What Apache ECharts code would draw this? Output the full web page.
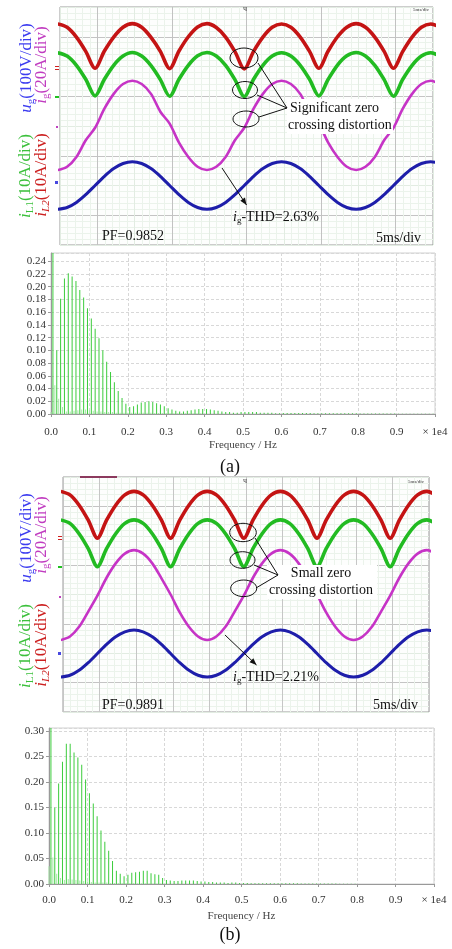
<!DOCTYPE html>
<html><head><meta charset="utf-8">
<script src="https://cdn.jsdelivr.net/npm/echarts@6/dist/echarts.min.js"></script>
<style>html,body{margin:0;padding:0;background:#fff}#c{width:452px;height:949px}</style>
</head><body><div id="c"></div><script>
// ---------------- DATA ----------------
// oscilloscope sample times (ms), screen spans -5 .. 45 ms (5 ms/div)
const scopeTimeMs = [-5.3,-4.05,-2.8,-1.55,-0.3,0.95,2.2,3.45,4.7,5.95,7.2,8.45,9.7,10.95,12.2,13.45,14.7,15.95,17.2,18.45,19.7,20.95,22.2,23.45,24.7,25.95,27.2,28.45,29.7,30.95,32.2,33.45,34.7,35.95,37.2,38.45,39.7,40.95,42.2,43.45,44.7,45.95];
// trace levels in screen divisions (0 = bottom of screen, 8 = top)
// (a)
const iL2_a = [7.43,7.32,6.99,6.51,5.94,6.52,6.99,7.32,7.44,7.32,6.98,6.51,5.93,6.52,7.00,7.33,7.44,7.31,6.99,6.50,5.92,6.51,6.99,7.32,7.43,7.32,6.99,6.51,5.94,6.52,7.00,7.32,7.44,7.32,6.99,6.51,5.94,6.51,6.99,7.32,7.43,7.32];
const iL1_a = [6.46,6.35,6.04,5.57,5.01,5.57,6.04,6.35,6.47,6.35,6.03,5.56,5.00,5.57,6.04,6.36,6.47,6.35,6.04,5.56,4.99,5.57,6.04,6.35,6.46,6.35,6.04,5.57,5.01,5.57,6.05,6.36,6.47,6.35,6.04,5.56,5.00,5.57,6.04,6.35,6.46,6.35];
const ig_a  = [2.52,2.63,2.96,3.52,3.94,4.58,5.08,5.41,5.52,5.41,5.08,4.48,4.08,3.44,2.96,2.63,2.52,2.63,2.96,3.52,3.94,4.58,5.08,5.41,5.52,5.41,5.08,4.48,4.08,3.44,2.96,2.63,2.52,2.63,2.96,3.52,3.94,4.58,5.08,5.41,5.52,5.41];
const ug_a  = [1.20,1.26,1.43,1.69,2.00,2.31,2.57,2.74,2.80,2.74,2.57,2.31,2.00,1.69,1.43,1.26,1.20,1.26,1.43,1.69,2.00,2.31,2.57,2.74,2.80,2.74,2.57,2.31,2.00,1.69,1.43,1.26,1.20,1.26,1.43,1.69,2.00,2.31,2.57,2.74,2.80,2.74];
// (b)
const iL2_b = [7.51,7.39,7.04,6.53,5.92,6.53,7.04,7.39,7.51,7.39,7.04,6.53,5.92,6.53,7.04,7.39,7.51,7.39,7.04,6.53,5.92,6.53,7.04,7.39,7.51,7.39,7.04,6.53,5.92,6.53,7.04,7.39,7.51,7.39,7.04,6.53,5.92,6.53,7.04,7.39,7.51,7.39];
const iL1_b = [6.54,6.42,6.07,5.56,4.95,5.56,6.07,6.42,6.54,6.42,6.07,5.56,4.95,5.56,6.07,6.42,6.54,6.42,6.07,5.56,4.95,5.56,6.07,6.42,6.54,6.42,6.07,5.56,4.95,5.56,6.07,6.42,6.54,6.42,6.07,5.56,4.95,5.56,6.07,6.42,6.54,6.42];
const ig_b  = [2.45,2.57,2.90,3.42,3.96,4.57,5.06,5.39,5.51,5.39,5.06,4.55,4.00,3.39,2.90,2.57,2.45,2.57,2.90,3.42,3.96,4.57,5.06,5.39,5.51,5.39,5.06,4.55,4.00,3.39,2.90,2.57,2.45,2.57,2.90,3.42,3.96,4.57,5.06,5.39,5.51,5.39];
const ug_b  = [1.19,1.25,1.42,1.68,1.99,2.30,2.56,2.73,2.79,2.73,2.56,2.30,1.99,1.68,1.42,1.25,1.19,1.25,1.42,1.68,1.99,2.30,2.56,2.73,2.79,2.73,2.56,2.30,1.99,1.68,1.42,1.25,1.19,1.25,1.42,1.68,1.99,2.30,2.56,2.73,2.79,2.73];

// harmonic spectra (fundamental 50 Hz), amplitude per harmonic
const fundamentalHz = 50;
// odd harmonics n = 1,3,5,...
const oddAmp_a = [1.0,0.100,0.181,0.213,0.221,0.216,0.209,0.195,0.183,0.166,0.150,0.134,0.119,0.100,0.082,0.066,0.050,0.036,0.025,0.016,
 0.011,0.012,0.015,0.018,0.019,0.020,0.019,0.017,0.015,0.012,0.009,0.007,0.005,0.004,0.004,0.005,0.006,0.007,0.008,0.008,
 0.008,0.007,0.006,0.005,0.004,0.003,0.003,0.002,0.002,0.003,0.003,0.003,0.003,0.003,0.002,0.002,0.002,0.002,0.001,0.001,
 0.0015,0.0015,0.0015,0.0015,0.0015,0.0015,0.0015,0.0015,0.0012,0.0012,0.001,0.001,0.001,0.001,0.001,0.001,0.001,0.001,0.001,0.001,
 0.0008,0.0008,0.0008,0.0008,0.0008,0.0006,0.0006,0.0006,0.0006,0.0006,0.0005,0.0005,0.0005,0.0005,0.0005,0.0005,0.0005,0.0005,0.0005,0.0005];
// even harmonics n = 0,2,4,...
const evenAmp_a = [0.003,0.045,0.024,0.011,0.004,0.004,0.005,0.006,0.007,0.007,0.006,0.005,0.004,0.004,0.003,0.003,0.003,0.002,0.002,0.002,
 0.002,0.002,0.002,0.002,0.002,0.002,0.002,0.0015,0.0015,0.0015,0.0015,0.0015,0.001,0.001,0.001,0.001,0.001,0.001,0.001,0.001];
const oddAmp_b = [1.0,0.150,0.197,0.240,0.275,0.275,0.258,0.248,0.234,0.205,0.178,0.158,0.133,0.105,0.083,0.065,0.045,0.026,0.020,0.015,
 0.018,0.022,0.023,0.024,0.026,0.026,0.021,0.019,0.018,0.012,0.008,0.007,0.006,0.006,0.007,0.007,0.007,0.007,0.006,0.005,
 0.005,0.004,0.004,0.003,0.003,0.003,0.002,0.003,0.003,0.002,0.002,0.002,0.0015,0.0015,0.0015,0.0015,0.0015,0.0015,0.0015,0.0015,
 0.0015,0.0015,0.0015,0.0015,0.0015,0.001,0.001,0.001,0.001,0.001,0.0008,0.0008,0.0008,0.0008,0.0008,0.0006,0.0006,0.0006,0.0006,0.0006];
const evenAmp_b = [0.035,0.052,0.020,0.012,0.008,0.010,0.009,0.008,0.007,0.006,0.005,0.004,0.003,0.003,0.003,0.003,0.002,0.002,0.002,0.002,
 0.002,0.002,0.002,0.0015,0.0015,0.0015,0.0015,0.001,0.001,0.001];

// ---------------- CHART ----------------
const SERIF = "'Liberation Serif','Times New Roman',serif";
const chart = echarts.init(document.getElementById('c'), null, {renderer:'canvas', width:452, height:949});

const C_RED='#c41414', C_GRN='#22bb22', C_MAG='#c634c6', C_BLU='#1e1eaa';

const grids = [
  {left:60, top:7, width:373, height:238, show:true, backgroundColor:'#fdfefd', borderColor:'#9a9a9a', borderWidth:1},
  {left:51, top:253, width:384, height:161, show:true, borderColor:'#d0d0d0', borderWidth:1},
  {left:63, top:477, width:366, height:235, show:true, backgroundColor:'#fdfefd', borderColor:'#9a9a9a', borderWidth:1},
  {left:49, top:728, width:385, height:156, show:true, borderColor:'#d0d0d0', borderWidth:1}
];

function scopeX(gi, colors){
  return {type:'value', gridIndex:gi, min:-5, max:45, interval:5,
    axisLine:{show:false}, axisTick:{show:false}, axisLabel:{show:false},
    splitLine:{show:true, lineStyle:{color:colors, width:1}},
    minorTick:{show:false, splitNumber:5},
    minorSplitLine:{show:true, lineStyle:{color:'#ebf3eb', width:1}}};
}
function scopeY(gi){
  return {type:'value', gridIndex:gi, min:0, max:8, interval:1,
    axisLine:{show:false}, axisTick:{show:false}, axisLabel:{show:false},
    splitLine:{show:true, lineStyle:{color:['#e2ece2','#c4c4c4'], width:1}},
    minorTick:{show:false, splitNumber:5},
    minorSplitLine:{show:true, lineStyle:{color:'#ebf3eb', width:1}}};
}
function specX(gi, off, margin, gap){
  return {type:'value', gridIndex:gi, min:0, max:1, interval:0.1, offset:off,
    axisLine:{show:true, lineStyle:{color:'#999'}}, axisTick:{show:true, length:3, lineStyle:{color:'#999'}},
    axisLabel:{fontFamily:SERIF, fontSize:11, color:'#333', margin:margin,
      formatter:v=> Math.abs(v-1)<1e-9 ? '× 1e4' : v.toFixed(1)},
    splitLine:{show:true, lineStyle:{color:'#d8d8d8', type:[3,2]}},
    name:'Frequency / Hz', nameLocation:'middle', nameGap:gap,
    nameTextStyle:{fontFamily:SERIF, fontSize:11, color:'#444'}};
}
function specY(gi, max, interval){
  return {type:'value', gridIndex:gi, min:0, max:max, interval:interval,
    axisLine:{show:true, lineStyle:{color:'#999'}}, axisTick:{show:true, length:3, lineStyle:{color:'#999'}},
    axisLabel:{fontFamily:SERIF, fontSize:11, color:'#333', margin:5, showMaxLabel:false,
      formatter:v=>v.toFixed(2)},
    splitLine:{show:true, lineStyle:{color:'#d8d8d8', type:[3,2]}}};
}

function trace(gi, arr, color, w){
  return {type:'line', xAxisIndex:gi, yAxisIndex:gi, data:scopeTimeMs.map((t,i)=>[t,arr[i]]),
    showSymbol:false, smooth:0.3, clip:true, lineStyle:{color:color, width:w}, z:3, silent:true, animation:false};
}
function spec(gi, amps, startOrder, color, w){
  return {type:'bar', xAxisIndex:gi, yAxisIndex:gi, barWidth:w, barGap:'-100%', clip:true,
    data:amps.map((a,i)=>[(startOrder+2*i)*fundamentalHz/1e4, a]),
    itemStyle:{color:color}, silent:true, animation:false};
}

const series = [
  trace(0, ug_a, C_BLU, 3), trace(0, ig_a, C_MAG, 2.6), trace(0, iL1_a, C_GRN, 3.6), trace(0, iL2_a, C_RED, 3.6),
  trace(2, ug_b, C_BLU, 3), trace(2, ig_b, C_MAG, 2.6), trace(2, iL1_b, C_GRN, 3.6), trace(2, iL2_b, C_RED, 3.6),
  spec(1, evenAmp_a, 0, '#a6e6a6', 1), spec(1, oddAmp_a, 1, '#3ccc3c', 1),
  spec(3, evenAmp_b, 0, '#a6e6a6', 1), spec(3, oddAmp_b, 1, '#3ccc3c', 1)
];

// ---------- annotations ----------
const mctx = document.createElement('canvas').getContext('2d');
function fontStr(size, italic){ return (italic?'italic ':'')+size+'px '+SERIF; }
function tw(size, italic, s){ mctx.font = fontStr(size, italic); return mctx.measureText(s).width; }

const G = [];
function txt(x,y,text,opt){ G.push({type:'text', x:x, y:y, z:120, style:Object.assign({text:text, font:'14px '+SERIF, fill:'#111', align:'left', verticalAlign:'middle'}, opt||{})}); }
function ell(cx,cy,rx,ry){ G.push({type:'ellipse', z:110, shape:{cx,cy,rx,ry}, style:{fill:'none', stroke:'#111', lineWidth:1}}); }
function ln(x1,y1,x2,y2){ G.push({type:'line', z:110, shape:{x1,y1,x2,y2}, style:{stroke:'#111', lineWidth:1}}); }
function arrow(x1,y1,x2,y2){
  ln(x1,y1,x2,y2);
  const dx=x2-x1, dy=y2-y1, L=Math.hypot(dx,dy), ux=dx/L, uy=dy/L, h=7, w=2.8;
  const bx=x2-h*ux, by=y2-h*uy;
  G.push({type:'polygon', z:111, shape:{points:[[x2,y2],[bx-w*uy,by+w*ux],[bx+w*uy,by-w*ux]]}, style:{fill:'#111'}});
}
function rect(x,y,w,h,fill,z){ G.push({type:'rect', z:z||105, shape:{x,y,width:w,height:h}, style:{fill:fill}}); }

// vertical (bottom-to-top) label built from pieces [text, size, italic, sub]
function vlabel(cx, cy, color, parts){
  const widths = parts.map(p=>tw(p[1],p[2],p[0]));
  const L = widths.reduce((a,b)=>a+b,0);
  let y = cy + L/2;
  parts.forEach((p,i)=>{
    G.push({type:'text', x: cx + (p[3]?4:0), y: y, rotation:Math.PI/2, z:120,
      style:{text:p[0], font:fontStr(p[1],p[2]), fill:color, align:'left', verticalAlign:'middle'}});
    y -= widths[i];
  });
}
// horizontal label from pieces
function hlabel(x, y, color, parts){
  parts.forEach(p=>{
    G.push({type:'text', x:x, y: y + (p[3]?4:0), z:120,
      style:{text:p[0], font:fontStr(p[1],p[2]), fill:color, align:'left', verticalAlign:'middle'}});
    x += tw(p[1],p[2],p[0]);
  });
}
function scopeLabels(dy){
  vlabel(27, 68+dy, '#3c3cf0', [['u',17,true,false],['g',11,false,true],['(100V/div)',17,false,false]]);
  vlabel(42, 65+dy, '#c03cc0', [['i',17,true,false],['g',11,false,true],['(20A/div)',17,false,false]]);
  vlabel(26, 176+dy, '#3cc03c', [['i',17,true,false],['L1',11,false,true],['(10A/div)',17,false,false]]);
  vlabel(42, 175+dy, '#cc2020', [['i',17,true,false],['L2',11,true,true],['(10A/div)',17,false,false]]);
}
function thd(x,y,val){
  hlabel(x, y, '#111', [['i',14,true,false],['g',9,false,true],['-THD='+val,14,false,false]]);
}
function markers(x,yR,yG,yM,yB){
  rect(x,yR-2,4,1,'#d02020'); rect(x,yR+1,4,1,'#d02020');
  rect(x,yG-1,4,2,'#20c020');
  rect(x+1,yM-1,2,2,'#c040c0');
  rect(x,yB-1,3,3,'#4848e0');
}

// ---- panel (a)
scopeLabels(0);
markers(55,68,97,127,182);
rect(287,99,106,35,'#ffffff');
ell(244,58,14,10); ell(245,90,12.5,8.5); ell(246,119,13,8);
ln(258,63,287,108); ln(257,95,287,108); ln(259,117,287,108);
txt(290,108,'Significant zero'); txt(288,125,'crossing distortion');
arrow(222,168,246.5,205);
thd(233,217,'2.63%');
txt(102,236,'PF=0.9852');
txt(376,238,'5ms/div');
txt(413,10,'5ms/div',{font:'5px '+SERIF, fill:'#333'});
txt(243,9,'ч',{font:'8px '+SERIF, fill:'#444'});
txt(230,467,'(a)',{font:'18px '+SERIF, align:'center'});

// ---- panel (b)
const DB = 470;
scopeLabels(DB);
markers(58,538,567,597,653);
rect(80,476,37,2,'#8c3a5e');
rect(267,565,110,34,'#ffffff');
ell(243,532.5,13.3,9.2); ell(242.5,560,12.5,8.3); ell(243.7,588.3,13,8.3);
ln(255,538,278,575); ln(254,565,278,575); ln(256,588,278,575);
txt(321,573,'Small zero',{align:'center'}); txt(321,590,'crossing distortion',{align:'center'});
arrow(225,635,256.5,665);
thd(233,677,'2.21%');
txt(102,705,'PF=0.9891');
txt(373,705,'5ms/div');
txt(408,482,'5ms/div',{font:'5px '+SERIF, fill:'#333'});
txt(243,481,'ч',{font:'8px '+SERIF, fill:'#444'});
txt(230,935,'(b)',{font:'18px '+SERIF, align:'center'});

chart.setOption({
  animation:false,
  grid:grids,
  xAxis:[scopeX(0,['#e2ece2','#c2c2c2']), specX(1,6,7,20), scopeX(2,['#c6c6c6']), specX(3,6,5,21)],
  yAxis:[scopeY(0), specY(1,0.253,0.02), scopeY(2), specY(3,0.306,0.05)],
  series:series,
  graphic:{elements:G}
});
</script></body></html>
